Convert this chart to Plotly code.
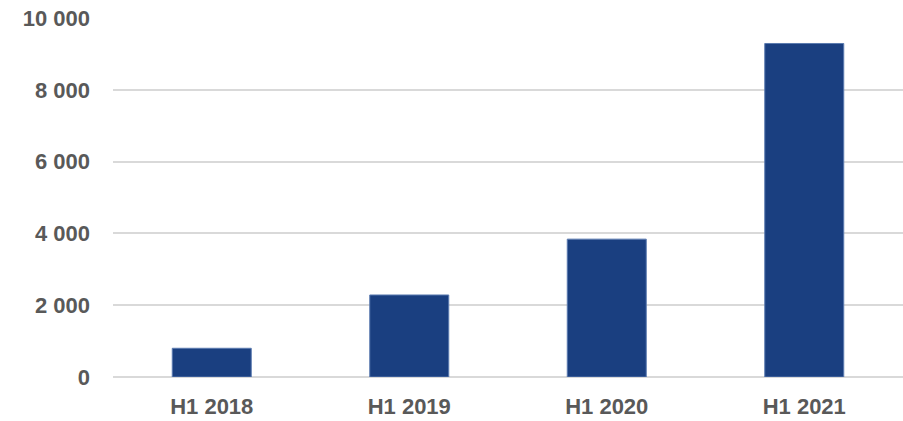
import plotly.graph_objects as go

categories = ["H1 2018", "H1 2019", "H1 2020", "H1 2021"]
values = [800, 2285, 3840, 9290]
tick_vals = [0, 2000, 4000, 6000, 8000, 10000]
tick_text = ["0", "2 000", "4 000", "6 000", "8 000", "10 000"]

font_family = "Liberation Sans, Arial, sans-serif"
label_color = "#595959"
font_size = 22

fig = go.Figure(
    go.Bar(
        x=categories,
        y=values,
        marker=dict(color="#1a3f80", line=dict(color="#5b7bb0", width=1)),
        hoverinfo="skip",
    )
)

fig.update_layout(
    width=903,
    height=421,
    margin=dict(l=113, r=0, t=18, b=44),
    paper_bgcolor="white",
    plot_bgcolor="white",
    bargap=0.6,
    showlegend=False,
    font=dict(family=font_family, size=font_size, color=label_color),
)

fig.update_xaxes(
    showgrid=False,
    showline=False,
    ticks="",
    tickfont=dict(family=font_family, size=font_size, color=label_color, weight="bold"),
    ticklabelstandoff=14,
)

fig.update_yaxes(
    range=[0, 10000],
    tickvals=tick_vals,
    ticktext=tick_text,
    showgrid=True,
    gridcolor="#d9d9d9",
    gridwidth=1.5,
    zeroline=True,
    zerolinecolor="#d9d9d9",
    zerolinewidth=1.5,
    showline=False,
    ticks="",
    tickfont=dict(family=font_family, size=font_size, color=label_color, weight="bold"),
    ticklabelstandoff=22,
)

fig.write_html(
    "out.html",
    config={"displayModeBar": False},
    post_script="document.body.style.margin='0';document.body.style.overflow='hidden';",
)
